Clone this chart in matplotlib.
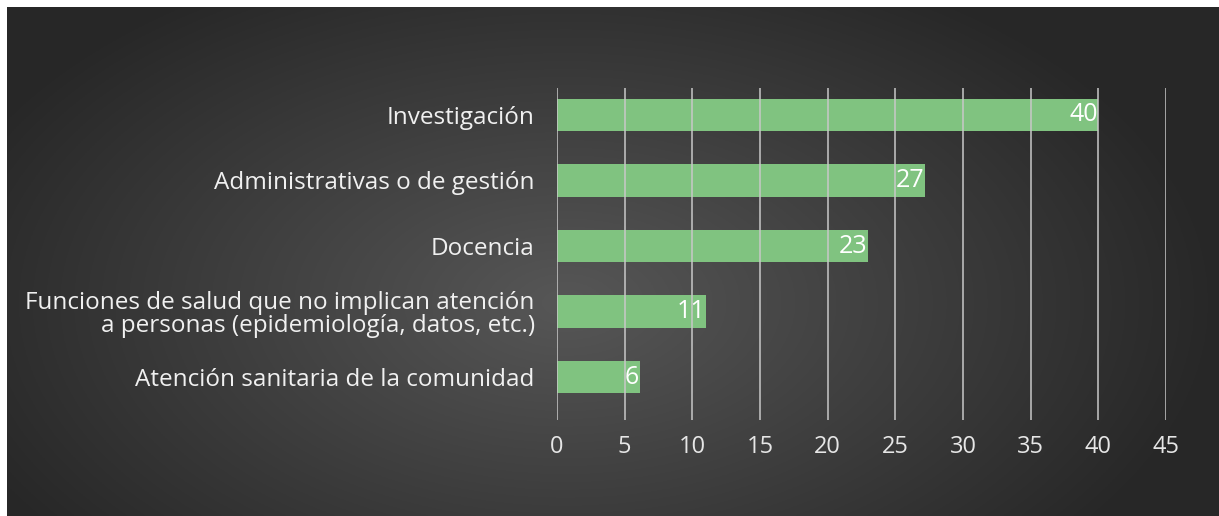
import numpy as np
import matplotlib
matplotlib.use("Agg")
import matplotlib.pyplot as plt

categories = [
    "Investigación",
    "Administrativas o de gestión",
    "Docencia",
    "Funciones de salud que no implican atención\na personas (epidemiología, datos, etc.)",
    "Atención sanitaria de la comunidad",
]
values = [40, 27.2, 23, 11, 6.1]
xticks = [0, 5, 10, 15, 20, 25, 30, 35, 40, 45]

plt.rcParams['font.family'] = ['Open Sans', 'DejaVu Sans']

W, H = 1219, 516
fig = plt.figure(figsize=(W / 100, H / 100), dpi=100, facecolor='white')

# gradient background
bg = fig.add_axes([7 / W, 0, (W - 7) / W, (H - 7) / H])
bg.set_axis_off()
ny, nx = 300, 700
yy, xx = np.mgrid[0:ny, 0:nx]
cx, cy = 0.46 * nx, 0.58 * ny
d = np.sqrt(((xx - cx) / (0.55 * nx)) ** 2 + ((yy - cy) / (0.75 * ny)) ** 2)
lum = np.clip(0.34 - 0.19 * d, 0.155, 0.34)
img = np.dstack([lum, lum, lum])
bg.imshow(img, aspect='auto', extent=[0, 1, 0, 1], origin='upper')
bg.set_xlim(0, 1)
bg.set_ylim(0, 1)

# main axes: x=0 at px 557, x=45 at px 1166; y from 88 to 420
x0, x1 = 557, 1166
ytop, ybot = 88, 420
ax = fig.add_axes([x0 / W, (H - ybot) / H, (x1 - x0) / W, (ybot - ytop) / H])
ax.patch.set_alpha(0)
n = len(categories)
ypos = np.arange(n)
ax.barh(ypos, values, height=0.5, color='#80c380', zorder=1)
ax.set_xlim(0, 45)
ax.set_ylim(n - 1 + 0.656, -0.412)
ax.set_xticks(xticks)
ax.set_xticklabels([str(t) for t in xticks])
ax.grid(axis='x', color='#c8c8c8', linewidth=1.1, zorder=2)
ax.set_axisbelow(False)
for s in ax.spines.values():
    s.set_visible(False)
ax.tick_params(axis='x', length=0, pad=11, labelsize=17, labelcolor='#e6e6e6')
ax.set_yticks(ypos)
ax.set_yticklabels(categories, fontsize=17.5, color='#f0f0f0', linespacing=0.95)
ax.tick_params(axis='y', length=0, pad=16)

for y, v in zip(ypos, values):
    ax.text(v - 0.05, y, f"{v:.0f}", ha='right', va='center', fontsize=18,
            color='white', zorder=3)

fig.savefig('out.png', dpi=100, facecolor='white')
